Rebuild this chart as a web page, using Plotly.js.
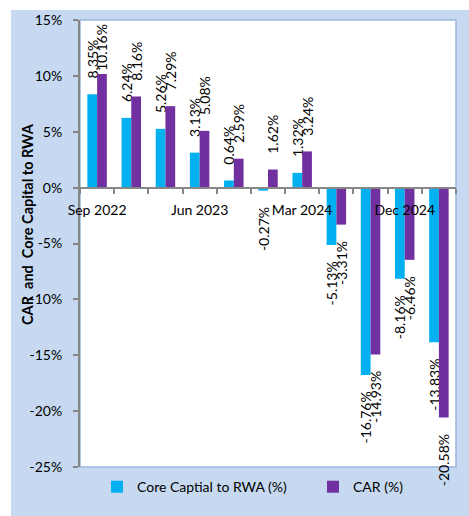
<!DOCTYPE html>
<html>
<head>
<meta charset="utf-8">
<script src="https://cdn.plot.ly/plotly-3.0.1.min.js"></script>
<style>
  html, body { margin: 0; padding: 0; background: #ffffff; }
  #chart { width: 469px; height: 516px; }
</style>
</head>
<body>
<div id="chart"></div>
<script>
// ---- data ----
const quarters = ["Sep 2022", "Dec 2022", "Mar 2023", "Jun 2023", "Sep 2023", "Dec 2023",
                  "Mar 2024", "Jun 2024", "Sep 2024", "Dec 2024", "Mar 2025"];
const coreCapital = [8.35, 6.24, 5.26, 3.13, 0.64, -0.27, 1.32, -5.13, -16.76, -8.16, -13.83];
const car = [10.16, 8.16, 7.29, 5.08, 2.59, 1.62, 3.24, -3.31, -14.93, -6.46, -20.58];
const shownTickLabels = ["Sep 2022", "Jun 2023", "Mar 2024", "Dec 2024"];
const seriesNames = ["Core Captial to RWA (%)", "CAR (%)"];
const yTickValues = [-25, -20, -15, -10, -5, 0, 5, 10, 15];

// ---- build ----
const Y_MAX = 15, Y_MIN = -25, PLOT_H = 447;
const xIdx = quarters.map((q, i) => i);
const pad = '<span style="color:rgba(0,0,0,0);font-size:11px">00</span>';
function labels(vals) {
  return vals.map(v => {
    const s = v.toFixed(2) + "%";
    if (v < 0) return s + pad;
    // keep the label inside the plot area when the bar is close to the top
    const roomPx = (Y_MAX - v) * PLOT_H / (Y_MAX - Y_MIN);
    return roomPx < 62 ? s : pad + s;
  });
}
const FONT = "Lato, 'Liberation Sans', sans-serif";
const labelFont = { family: FONT, size: 14, color: "#000000" };

const traces = [
  {
    type: "bar", name: seriesNames[0], x: xIdx, y: coreCapital,
    marker: { color: "#00b0f0", line: { width: 0 } },
    text: labels(coreCapital), textposition: "outside", textangle: -90,
    constraintext: "none", cliponaxis: false, textfont: labelFont,
    hoverinfo: "skip", legendwidth: 171
  },
  {
    type: "bar", name: seriesNames[1], x: xIdx, y: car,
    marker: { color: "#7030a0", line: { width: 0 } },
    text: labels(car), textposition: "outside", textangle: -90,
    constraintext: "none", cliponaxis: false, textfont: labelFont,
    hoverinfo: "skip"
  }
];

const boundaries = [];
for (let i = 0; i <= quarters.length; i++) boundaries.push(i - 0.5);

const layout = {
  width: 469, height: 516,
  margin: { l: 80, r: 13, t: 20, b: 49, pad: 0 },
  paper_bgcolor: "#ffffff",
  plot_bgcolor: "rgba(0,0,0,0)",
  font: { family: FONT, size: 14, color: "#000000" },
  barmode: "group", bargap: 0.43, bargroupgap: 0,
  showlegend: true,
  legend: {
    orientation: "h", x: (97 - 80) / 376, xanchor: "left", y: -0.045, yanchor: "middle",
    font: { family: FONT, size: 14, color: "#000000" },
    bgcolor: "rgba(0,0,0,0)", traceorder: "normal"
  },
  xaxis: {
    type: "linear", range: [-0.5, quarters.length - 0.5],
    anchor: "free", position: (0 - Y_MIN) / (Y_MAX - Y_MIN),
    tickmode: "array",
    tickvals: shownTickLabels.map(l => quarters.indexOf(l)),
    ticktext: shownTickLabels,
    ticks: "", showline: true, linecolor: "#868686", linewidth: 2,
    showgrid: false, zeroline: false, ticklabelstandoff: 10,
    tickfont: { family: FONT, size: 14, color: "#000000" },
    minor: { tickmode: "array", tickvals: boundaries, ticks: "outside", ticklen: 5,
             tickwidth: 2, tickcolor: "#868686", showgrid: false },
    fixedrange: true
  },
  yaxis: {
    range: [Y_MIN, Y_MAX], tickmode: "array", tickvals: yTickValues,
    ticktext: yTickValues.map(v => v + "%"),
    ticks: "outside", ticklen: 5, tickwidth: 2, tickcolor: "#868686",
    showline: true, linecolor: "#868686", linewidth: 2,
    showgrid: false, zeroline: false, ticklabelstandoff: 8,
    tickfont: { family: FONT, size: 14, color: "#000000" },
    fixedrange: true
  },
  shapes: [
    { type: "rect", xref: "paper", yref: "paper", layer: "below",
      x0: (11 - 80) / 376, x1: 1.2, y0: -0.2, y1: (467 - 10) / 447,
      fillcolor: "#c6d9f1", line: { width: 0 } },
    { type: "rect", xref: "paper", yref: "paper", layer: "below",
      x0: 0, x1: 1, y0: 0, y1: 1,
      fillcolor: "#ffffff", line: { color: "#9db5de", width: 1.5 } }
  ],
  annotations: [
    { xref: "paper", yref: "paper", x: (27 - 80) / 376, y: (467 - 224) / 447,
      xanchor: "center", yanchor: "middle", textangle: -90, showarrow: false,
      text: "<b>CAR\u00a0 and\u00a0 Core Capital to RWA</b>",
      font: { family: FONT, size: 14.5, color: "#000000" } }
  ]
};

Plotly.newPlot("chart", traces, layout, { displayModeBar: false, staticPlot: true });
</script>
</body>
</html>
